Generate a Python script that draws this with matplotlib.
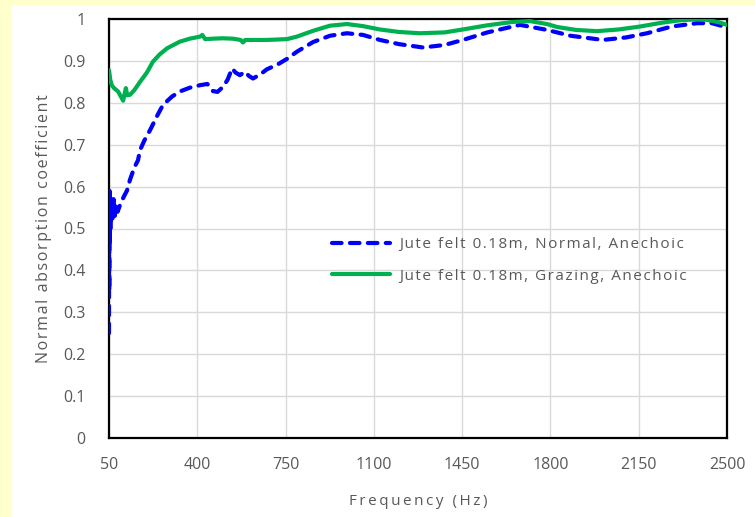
import numpy as np
import matplotlib
matplotlib.use("Agg")
import matplotlib.pyplot as plt
from matplotlib.patches import Rectangle
from matplotlib.ticker import FuncFormatter

# frequencies (Hz) and absorption
freq_grazing = [50, 55, 61, 70, 86, 100, 106, 112, 117, 122, 133, 150, 173, 200, 224, 250,
                280, 331, 370, 411, 420, 431, 462, 500, 542, 572, 581, 590, 676, 756, 795,
                860, 926, 993, 1057, 1124, 1200, 1283, 1380, 1453, 1550, 1651, 1719, 1786,
                1826, 1900, 1984, 2070, 2155, 2240, 2314, 2380, 2420, 2470, 2500]
alpha_grazing = [0.878, 0.855, 0.842, 0.835, 0.827, 0.812, 0.805, 0.822, 0.835, 0.818, 0.819,
                 0.830, 0.850, 0.872, 0.898, 0.915, 0.930, 0.946, 0.953, 0.958, 0.962, 0.952,
                 0.953, 0.954, 0.953, 0.950, 0.944, 0.950, 0.950, 0.952, 0.958, 0.972, 0.984,
                 0.988, 0.983, 0.975, 0.969, 0.966, 0.968, 0.975, 0.985, 0.993, 0.995, 0.988,
                 0.981, 0.974, 0.971, 0.975, 0.982, 0.991, 0.997, 0.999, 0.998, 0.992, 0.986]

freq_normal = [50, 50.5, 51, 52, 53, 55, 57, 60, 64, 68, 73, 78, 84, 90, 96, 104, 112, 121,
               133, 150, 165, 173, 190, 213, 240, 264, 300, 331, 370, 411, 440, 462, 480, 502,
               520, 538, 552, 569, 589, 605, 621, 650, 676, 720, 756, 795, 859, 926, 993,
               1057, 1124, 1200, 1295, 1380, 1453, 1550, 1679, 1786, 1880, 2008, 2100, 2183,
               2280, 2381, 2440, 2500]
alpha_normal = [0.25, 0.55, 0.35, 0.59, 0.47, 0.58, 0.50, 0.56, 0.52, 0.57, 0.53, 0.56, 0.54,
                0.55, 0.56, 0.57, 0.58, 0.59, 0.616, 0.645, 0.663, 0.687, 0.71, 0.735, 0.768,
                0.795, 0.815, 0.827, 0.836, 0.842, 0.845, 0.828, 0.826, 0.838, 0.855, 0.882,
                0.872, 0.866, 0.874, 0.864, 0.858, 0.868, 0.880, 0.892, 0.905, 0.922, 0.945,
                0.960, 0.966, 0.962, 0.950, 0.940, 0.932, 0.938, 0.950, 0.968, 0.986, 0.974,
                0.960, 0.950, 0.956, 0.966, 0.982, 0.990, 0.990, 0.980]

label_normal = "Jute felt 0.18m, Normal, Anechoic"
label_grazing = "Jute felt 0.18m, Grazing, Anechoic"
x_ticks = [50, 400, 750, 1100, 1450, 1800, 2150, 2500]
y_ticks = [0, 0.1, 0.2, 0.3, 0.4, 0.5, 0.6, 0.7, 0.8, 0.9, 1]

plt.rcParams['font.family'] = ['Open Sans', 'DejaVu Sans']
grey = '#595959'
fs = 11.5


def spaced(s, gap='\u2009'):
    # excel-style loose letter spacing
    return gap.join(s)


fig = plt.figure(figsize=(7.55, 5.17), dpi=100, facecolor='white')
# pale yellow page edges
fig.patches.append(Rectangle((0, 0), 12 / 755, 1, transform=fig.transFigure,
                             facecolor='#FFFFCC', edgecolor='none', zorder=0))
fig.patches.append(Rectangle((0, 1 - 5 / 517), 1, 5 / 517, transform=fig.transFigure,
                             facecolor='#FFFFCC', edgecolor='none', zorder=0))

ax = fig.add_axes([109 / 755, 1 - 438 / 517, 618 / 755, 419 / 517])
ax.plot(freq_normal, alpha_normal, color='#0000FF', lw=3.0, ls=(0, (2.3, 2.0)),
        dash_capstyle='round', label=spaced(label_normal, '\u200a'), zorder=3)
ax.plot(freq_grazing, alpha_grazing, color='#00B050', lw=3.0, solid_capstyle='round',
        label=spaced(label_grazing, '\u200a'), zorder=3)

ax.set_xlim(50, 2500)
ax.set_ylim(0, 1)
ax.set_xticks(x_ticks)
ax.set_yticks(y_ticks)
ax.yaxis.set_major_formatter(FuncFormatter(lambda v, p: f'{v:g}'))
ax.tick_params(length=0, labelsize=fs, labelcolor=grey)
ax.tick_params(axis='x', pad=14)
ax.tick_params(axis='y', pad=17)
ax.grid(True, color='#D9D9D9', lw=1)
ax.set_axisbelow(True)
for s in ax.spines.values():
    s.set_color('black')
    s.set_linewidth(1.6)

ax.set_xlabel(spaced('Frequency (Hz)'), fontsize=11, color=grey, labelpad=15)
ax.set_ylabel(spaced('Normal absorption coefficient', '\u200a'), fontsize=11.5, color=grey,
              labelpad=8)

ax.legend(loc='upper left', bbox_to_anchor=((332 - 109) / 618, (438 - 237) / 419),
          frameon=False, fontsize=11, labelcolor=grey, handlelength=3.8,
          handletextpad=0.6, borderpad=0, borderaxespad=0, labelspacing=1.1)

fig.savefig('out.png', dpi=100, facecolor='white')
